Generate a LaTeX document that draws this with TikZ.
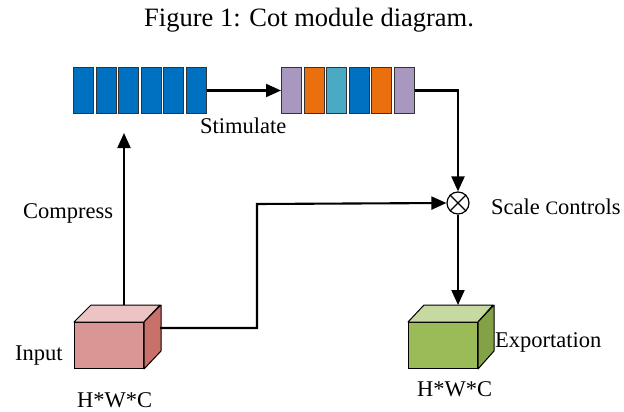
\documentclass[tikz,border=0pt]{standalone}
\usepackage{fontspec}
\setmainfont{Liberation Serif}
\usetikzlibrary{arrows.meta}
\definecolor{cblue}{HTML}{0070C0}
\definecolor{cpurple}{HTML}{A898C0}
\definecolor{corange}{HTML}{EA700F}
\definecolor{cteal}{HTML}{4AAAC4}
\definecolor{pinkfront}{HTML}{D99694}
\definecolor{pinktop}{HTML}{EBC4C3}
\definecolor{pinkside}{HTML}{C8706A}
\definecolor{greenfront}{HTML}{9BBB59}
\definecolor{greentop}{HTML}{C5D9A0}
\definecolor{greenside}{HTML}{83A145}
\tikzset{
  cell/.style={draw=black!80, line width=1pt, minimum width=20pt, minimum height=46pt, inner sep=0pt, anchor=north west},
  front/.style={draw=black, line width=1pt, minimum width=69pt, minimum height=46pt, inner sep=0pt, anchor=north west},
  face/.style={draw=black, line width=1pt, line join=round},
  conn/.style={line width=2.1pt, -{Triangle[length=15pt,width=13pt]}},
  lbl/.style={inner sep=0pt, anchor=base west, font=\fontsize{22.5}{24}\selectfont},
  mul/.style={circle, draw=black, line width=1.2pt, minimum size=22pt, inner sep=0pt, fill=white}
}
\begin{document}
\begin{tikzpicture}[x=1pt,y=-1pt]
\useasboundingbox (0,0) rectangle (624,412);
% title
\node[lbl, font=\fontsize{26.5}{28}\selectfont] (title) at (144,27) {Figure 1: Cot module diagram.};
% first bar
\foreach \i in {0,...,5} {
  \node[cell, fill=cblue] (a\i) at ({73+22.5*\i},67) {};
}
% second bar
\foreach \i/\c in {0/cpurple,1/corange,2/cteal,3/cblue,4/corange,5/cpurple} {
  \node[cell, fill=\c] (b\i) at ({281+22.5*\i},67) {};
}
% multiply
\node[mul] (mul) at (458,203) {};
\draw[line width=1.2pt] (mul.north west) -- (mul.south east) (mul.north east) -- (mul.south west);
% input cube
\node[front, fill=pinkfront] (in) at (74,322) {};
\draw[face, fill=pinktop] (in.north west) -- ++(17,-17) -- ++(69,0) -- (in.north east) -- cycle;
\draw[face, fill=pinkside] (in.north east) -- ++(17,-17) -- ++(0,46) -- (in.south east) -- cycle;
\coordinate (intop) at (124,305);
\coordinate (inright) at (160,328);
% output cube
\node[front, fill=greenfront] (out) at (408,322) {};
\draw[face, fill=greentop] (out.north west) -- ++(16,-17) -- ++(69,0) -- (out.north east) -- cycle;
\draw[face, fill=greenside] (out.north east) -- ++(16,-17) -- ++(0,46) -- (out.south east) -- cycle;
\coordinate (outtop) at (458,305);
% connectors
\coordinate (cmpend) at (124,133);
\coordinate (bend) at (257,204);
\draw[conn] (a5.east) -- (b0.west);
\draw[conn] (b5.east) -| (mul.north);
\draw[conn] (intop) -- (cmpend);
\draw[conn] (inright) -| (bend) -- (mul.west);
\draw[conn] (mul.south) -- (outtop);
% labels
\node[lbl] (stim) at (200,133) {Stimulate};
\node[lbl] (comp) at (23,218) {Compress};
\node[lbl] (inl) at (15,360) {Input};
\node[lbl] (hwc1) at (77,407) {H*W*C};
\node[lbl] (scale) at (491,214) {Scale {\fontsize{19}{20}\selectfont C}ontrols};
\node[lbl] (exp) at (495,347) {Exportation};
\node[lbl] (hwc2) at (417,396) {H*W*C};
\end{tikzpicture}
\end{document}
